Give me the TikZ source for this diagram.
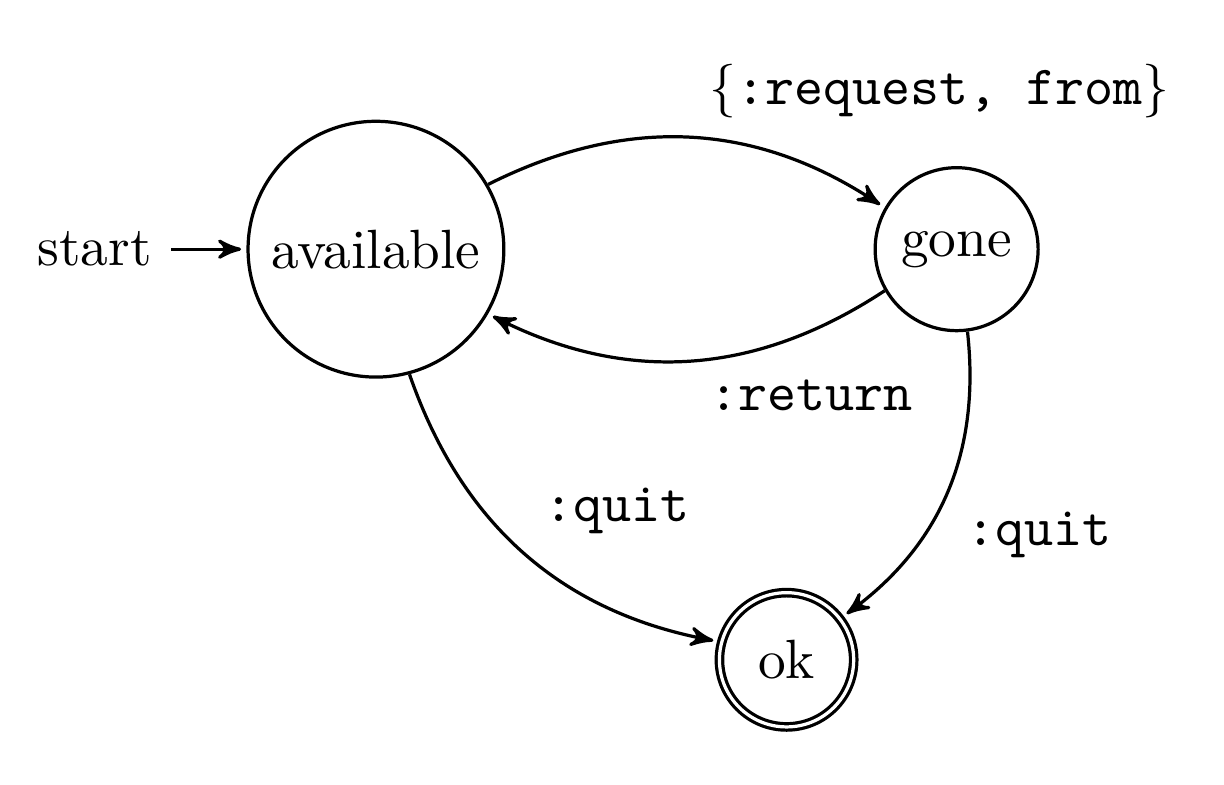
\documentclass[tikz,border=0pt]{standalone}
\usetikzlibrary{arrows,automata,positioning}

\begin{document}
\begin{tikzpicture}[->,>=stealth',shorten >=1pt,auto,node distance=3.8cm,semithick,
                    font=\fontsize{10.3pt}{12.4pt}\selectfont,initial distance=14pt]
    \useasboundingbox (-70pt,-99.6pt) rectangle (157.9pt,46.4pt);
    \node[initial,state] (avail)                   {available};
    \node[state]         (gone) [right of=avail]   {gone};
    \node[state,accepting] (ok) [below right of=avail] {ok};

    \path (avail) edge [bend left]  node {$\{$\texttt{:request, from}$\}$} (gone)
                  edge [bend right] node {\texttt{:quit}} (ok)
          (gone)  edge [bend left]  node {\texttt{:return}} (avail)
                  edge [bend left]  node {\texttt{:quit}} (ok);
\end{tikzpicture}
\end{document}
